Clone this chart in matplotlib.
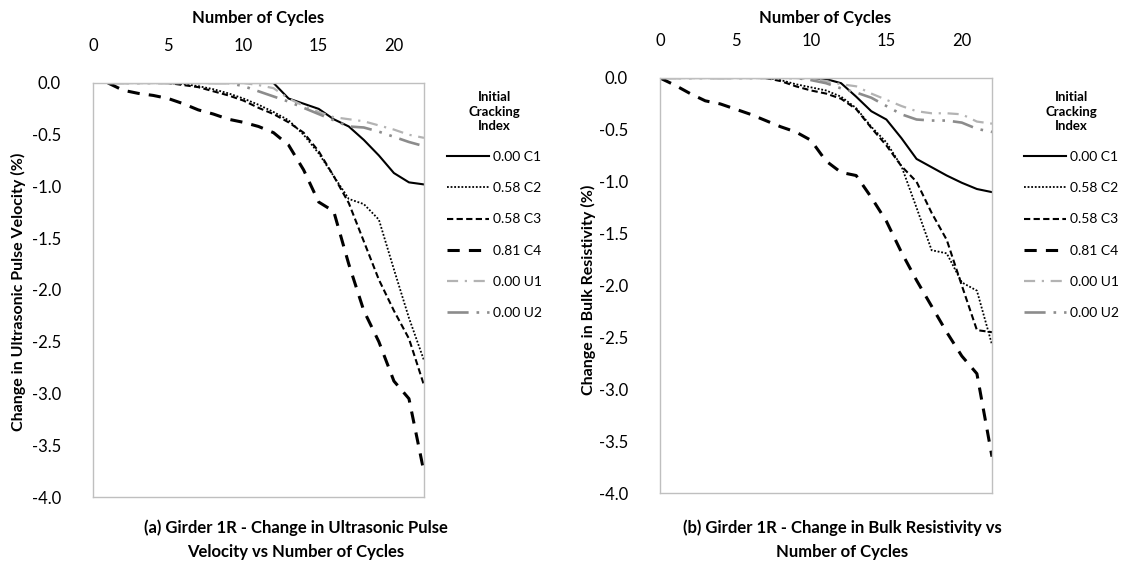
import matplotlib
matplotlib.use("Agg")
import matplotlib.pyplot as plt
from matplotlib.ticker import FormatStrFormatter

plt.rcParams['font.family'] = ['Lato', 'DejaVu Sans']
plt.rcParams['axes.unicode_minus'] = False

# ---- data -------------------------------------------------------------
cycles_upv = list(range(1, 23))
upv_c1 = [0, 0, 0, 0, 0, 0, 0, 0, 0, 0, 0, 0, -0.15, -0.2, -0.25, -0.35, -0.42, -0.55, -0.7, -0.87, -0.96, -0.98]
upv_c2 = [0, 0, 0, 0, 0, -0.01, -0.03, -0.06, -0.1, -0.15, -0.21, -0.28, -0.36, -0.5, -0.68, -0.9, -1.12, -1.17, -1.32, -1.8, -2.27, -2.68]
upv_c3 = [0, 0, 0, 0, 0, -0.02, -0.04, -0.08, -0.12, -0.17, -0.24, -0.3, -0.38, -0.48, -0.66, -0.9, -1.16, -1.53, -1.9, -2.2, -2.47, -2.92]
upv_c4 = [0, -0.07, -0.1, -0.12, -0.15, -0.2, -0.26, -0.3, -0.35, -0.38, -0.42, -0.48, -0.6, -0.84, -1.15, -1.24, -1.75, -2.2, -2.5, -2.88, -3.05, -3.76]
upv_u1 = [0, 0, 0, 0, 0, 0, 0, 0, 0, 0, -0.02, -0.05, -0.15, -0.22, -0.28, -0.33, -0.35, -0.37, -0.41, -0.45, -0.5, -0.53]
upv_u2 = [0, 0, 0, 0, 0, 0, 0, 0, 0, -0.03, -0.08, -0.13, -0.18, -0.24, -0.3, -0.36, -0.42, -0.43, -0.47, -0.52, -0.57, -0.61]

cycles_br = list(range(0, 23))
br_c1 = [0, 0, 0, 0, 0, 0, 0, 0, 0, 0, 0, -0.01, -0.05, -0.18, -0.32, -0.4, -0.58, -0.78, -0.86, -0.94, -1.01, -1.07, -1.1]
br_c2 = [0, 0, 0, 0, 0, 0, 0, 0, -0.02, -0.06, -0.09, -0.12, -0.18, -0.29, -0.47, -0.62, -0.85, -1.25, -1.66, -1.69, -1.97, -2.05, -2.57]
br_c3 = [0, 0, 0, 0, 0, 0, 0, 0, -0.03, -0.08, -0.12, -0.15, -0.2, -0.3, -0.48, -0.65, -0.85, -1.0, -1.3, -1.56, -2.0, -2.43, -2.45]
br_c4 = [0, -0.07, -0.15, -0.22, -0.25, -0.3, -0.35, -0.41, -0.47, -0.52, -0.6, -0.8, -0.91, -0.94, -1.15, -1.38, -1.68, -1.95, -2.2, -2.45, -2.68, -2.85, -3.65]
br_u1 = [0, 0, 0, 0, 0, 0, 0, 0, 0, 0, -0.01, -0.03, -0.06, -0.08, -0.15, -0.21, -0.27, -0.32, -0.34, -0.34, -0.35, -0.42, -0.44]
br_u2 = [0, 0, 0, 0, 0, 0, 0, 0, 0, 0, -0.02, -0.05, -0.1, -0.14, -0.19, -0.27, -0.35, -0.4, -0.41, -0.41, -0.43, -0.49, -0.52]

series_labels = ["0.00 C1", "0.58 C2", "0.58 C3", "0.81 C4", "0.00 U1", "0.00 U2"]
x_ticks = [0, 5, 10, 15, 20]
y_ticks = [0.0, -0.5, -1.0, -1.5, -2.0, -2.5, -3.0, -3.5, -4.0]

styles = [
    dict(color="black", lw=1.5, ls="-"),
    dict(color="black", lw=1.3, ls=(0, (1, 1))),
    dict(color="black", lw=1.5, ls=(0, (3, 1.6))),
    dict(color="black", lw=2.2, ls=(0, (4, 3))),
    dict(color="#b3b3b3", lw=1.6, ls=(0, (5, 3, 1, 3))),
    dict(color="#8c8c8c", lw=1.9, ls=(0, (8, 3, 1, 3, 1, 3))),
]

W, H = 1126, 571
fig = plt.figure(figsize=(W / 100, H / 100), dpi=100)


def px_axes(x0, y0, x1, y1):
    return fig.add_axes([x0 / W, 1 - y1 / H, (x1 - x0) / W, (y1 - y0) / H])


def setup(ax):
    ax.set_xlim(0, 22)
    ax.set_ylim(-4, 0)
    ax.xaxis.tick_top()
    ax.set_xticks(x_ticks)
    ax.set_yticks(y_ticks)
    ax.yaxis.set_major_formatter(FormatStrFormatter('%.1f'))
    ax.tick_params(axis='x', length=0, pad=21, labelsize=12)
    ax.tick_params(axis='y', length=0, pad=23, labelsize=12)
    for s in ax.spines.values():
        s.set_color("#bfbfbf")
        s.set_linewidth(1.0)


def legend(ax, x, y):
    leg = ax.legend(loc="upper left", bbox_to_anchor=(x / W, 1 - y / H),
                    bbox_transform=fig.transFigure, frameon=False,
                    title="Initial\nCracking\nIndex", fontsize=10,
                    title_fontproperties={'weight': 'bold', 'size': 9.5},
                    handlelength=3.0, handletextpad=0.3, labelspacing=1.38,
                    borderpad=0, borderaxespad=0)
    leg._legend_box.align = "center"
    leg.get_title().set_multialignment("center")
    leg.get_title().set_linespacing(1.25)


# (a) ultrasonic pulse velocity
ax1 = px_axes(93, 83, 424, 497)
for vals, lab, st in zip([upv_c1, upv_c2, upv_c3, upv_c4, upv_u1, upv_u2], series_labels, styles):
    ax1.plot(cycles_upv, vals, label=lab, **st)
setup(ax1)
legend(ax1, 447, 91)

# (b) bulk resistivity
ax2 = px_axes(660, 78, 992, 493)
for vals, lab, st in zip([br_c1, br_c2, br_c3, br_c4, br_u1, br_u2], series_labels, styles):
    ax2.plot(cycles_br, vals, label=lab, **st)
setup(ax2)
legend(ax2, 1024, 91)

bold = dict(fontweight="bold", fontsize=12)
fig.text(258 / W, 1 - 18 / H, "Number of Cycles", ha="center", va="center", **bold)
fig.text(825 / W, 1 - 18 / H, "Number of Cycles", ha="center", va="center", **bold)
fig.text(18 / W, 1 - 292 / H, "Change in Ultrasonic Pulse Velocity (%)", rotation=90,
         ha="center", va="center", fontweight="bold", fontsize=11.5)
fig.text(588 / W, 1 - 290 / H, "Change in Bulk Resistivity (%)", rotation=90,
         ha="center", va="center", fontweight="bold", fontsize=11.5)
fig.text(296 / W, 1 - 540 / H, "(a) Girder 1R - Change in Ultrasonic Pulse\nVelocity vs Number of Cycles",
         ha="center", va="center", linespacing=1.6, **bold)
fig.text(842 / W, 1 - 540 / H, "(b) Girder 1R - Change in Bulk Resistivity vs\nNumber of Cycles",
         ha="center", va="center", linespacing=1.6, **bold)

fig.savefig("out.png", dpi=100)
